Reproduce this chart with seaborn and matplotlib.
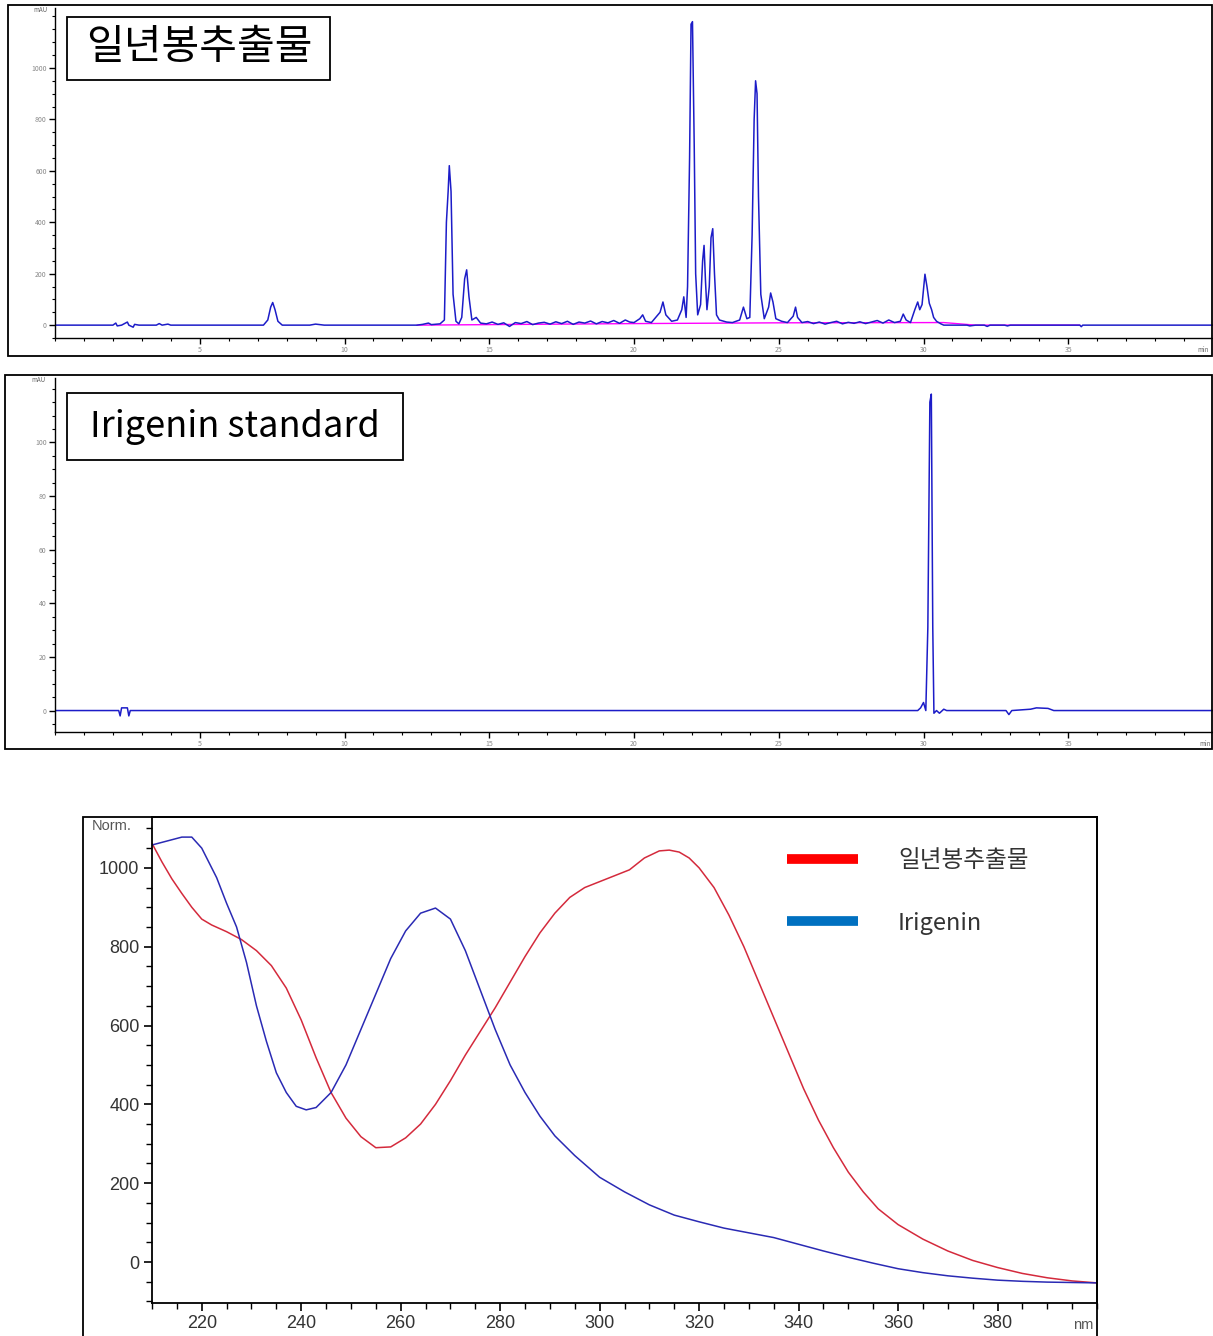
import numpy as np
import pandas as pd
import matplotlib
matplotlib.use("Agg")
import matplotlib.pyplot as plt
import seaborn as sns
from matplotlib.patches import Rectangle
from matplotlib.lines import Line2D
from matplotlib.ticker import MultipleLocator

# ---------------- data ----------------
# Chromatogram of extract (time in min, absorbance in mAU)
sample_time = [0, 2.0, 2.1, 2.15, 2.3, 2.5, 2.55, 2.7, 2.75, 2.9, 3.5, 3.6, 3.7, 3.9, 4.0,
               7.2, 7.35, 7.45, 7.52, 7.6, 7.7, 7.85, 8.8, 9.0, 9.3,
               12.5, 12.7, 12.9, 13.0, 13.3, 13.45, 13.52, 13.58, 13.62, 13.68, 13.75, 13.85, 13.95,
               14.05, 14.15, 14.22, 14.3, 14.4, 14.55, 14.7,
               14.9, 15.1, 15.3, 15.5, 15.7, 15.9, 16.1, 16.3, 16.5, 16.7, 16.9, 17.1, 17.3, 17.5,
               17.7, 17.9, 18.1, 18.3, 18.5, 18.7, 18.9, 19.1, 19.3, 19.5, 19.7, 19.85,
               20.0, 20.2, 20.3, 20.4, 20.6, 20.9, 21.0, 21.1, 21.3, 21.5, 21.65, 21.72, 21.8,
               21.85, 21.92, 21.97, 22.02, 22.08, 22.13, 22.2, 22.3, 22.37, 22.42, 22.47, 22.52,
               22.6, 22.66, 22.72, 22.78, 22.85, 22.95, 23.1, 23.2, 23.4, 23.65, 23.78, 23.9,
               24.0, 24.08, 24.15, 24.2, 24.25, 24.3, 24.38, 24.5, 24.65, 24.72, 24.8, 24.9,
               25.1, 25.3, 25.5, 25.58, 25.65, 25.8,
               26.0, 26.2, 26.4, 26.6, 26.8, 27.0, 27.2, 27.4, 27.6, 27.8, 28.0, 28.2, 28.4,
               28.6, 28.8, 29.0, 29.2, 29.3, 29.4, 29.55, 29.7, 29.8, 29.87, 29.95, 30.05,
               30.12, 30.2, 30.28, 30.35, 30.45, 30.6, 30.7,
               31.5, 31.6, 31.8, 32.1, 32.2, 32.3, 32.8, 32.9, 33.0, 35.4, 35.45, 35.5, 40]
sample_mau = [0, 0, 8, -3, 0, 12, 0, -8, 3, 0, 0, 6, 0, 4, 0,
              0, 20, 70, 88, 60, 15, 0, 0, 4, 0,
              0, 3, 8, 2, 5, 20, 400, 520, 620, 520, 120, 15, 5,
              30, 180, 215, 110, 20, 30, 8,
              5, 12, 3, 9, -5, 10, 6, 14, 2, 8, 11, 4, 13, 6,
              15, 3, 12, 8, 16, 5, 14, 9, 18, 7, 20, 12,
              10, 25, 40, 15, 10, 50, 90, 40, 15, 20, 60, 110, 30,
              150, 650, 1170, 1180, 700, 200, 40, 80, 250, 310, 170, 60,
              150, 340, 375, 200, 40, 20, 15, 12, 10, 20, 70, 25,
              30, 350, 800, 950, 900, 500, 120, 25, 70, 125, 90, 25,
              15, 10, 35, 70, 30, 10,
              14, 6, 12, 4, 10, 15, 5, 11, 7, 13, 6, 12, 18,
              8, 20, 10, 15, 43, 20, 10, 60, 90, 60, 80, 198,
              150, 85, 60, 30, 15, 5, 0,
              0, -3, 0, 0, -5, 0, 0, -3, 0, 0, -6, 0, 0]

# integration baseline (magenta)
base_time = [12.5, 20.0, 25.0, 30.7, 31.8, 35.4]
base_mau = [0, 6, 9, 10, 0, 0]

# Chromatogram of Irigenin standard
std_time = [0, 2.2, 2.25, 2.3, 2.5, 2.55, 2.6, 29.8, 29.9, 30.0, 30.08, 30.15, 30.22, 30.27,
            30.32, 30.36, 30.45, 30.55, 30.7, 30.8, 32.85, 32.95, 33.05, 33.7, 33.9, 34.3, 34.5, 40]
std_mau = [0, 0, -2, 1, 1, -2, 0, 0, 1, 3, 0, 31, 115, 118,
           31, -1, 0, -1, 0.5, 0, 0, -1.5, 0, 0.5, 1, 0.8, 0, 0]

# UV spectra (nm, normalised)
ext_nm = [210, 212, 214, 216, 218, 220, 222, 225, 228, 231, 234, 237, 240, 243, 246, 249, 252,
          255, 258, 261, 264, 267, 270, 273, 276, 279, 282, 285, 288, 291, 294, 297, 300, 303,
          306, 309, 312, 314, 316, 318, 320, 323, 326, 329, 332, 335, 338, 341, 344, 347, 350,
          353, 356, 360, 365, 370, 375, 380, 385, 390, 395, 400]
uv_extract = [1062, 1015, 972, 935, 900, 870, 855, 838, 818, 790, 752, 695, 614, 518, 430, 365,
              318, 290, 292, 315, 350, 400, 460, 525, 585, 645, 710, 775, 835, 885, 925, 950, 965,
              980, 995, 1025, 1043, 1045, 1040, 1025, 1000, 950, 880, 800, 710, 620, 530, 440,
              360, 290, 228, 178, 135, 95, 58, 28, 4, -14, -29, -40, -48, -53]
irig_nm = [210, 213, 216, 218, 220, 223, 225, 227, 229, 231, 233, 235, 237, 239, 241, 243, 246,
           249, 252, 255, 258, 261, 264, 267, 270, 273, 276, 279, 282, 285, 288, 291, 295, 300,
           305, 310, 315, 320, 325, 330, 335, 340, 345, 350, 355, 360, 365, 370, 375, 380, 385,
           390, 395, 400]
uv_irigenin = [1058, 1068, 1078, 1078, 1050, 975, 910, 850, 760, 650, 560, 480, 430, 395, 386,
               392, 430, 500, 590, 680, 770, 840, 885, 898, 870, 790, 690, 590, 500, 430, 370,
               320, 270, 215, 178, 145, 119, 102, 86, 74, 62, 45, 28, 12, -3, -17, -27, -35,
               -41, -46, -49, -51, -52, -53]

label_extract = "일년봉추출물"
label_std = "Irigenin standard"
label_irig = "Irigenin"

# ---------------- figure ----------------
sns.set_theme(style="white")
plt.rcParams["font.family"] = ["Noto Sans CJK KR", "DejaVu Sans"]

W, H = 1213, 1336
fig = plt.figure(figsize=(W / 100, H / 100), dpi=100)
fig.patch.set_facecolor("white")


def ax_px(l, t, r, b):
    return fig.add_axes([l / W, 1 - b / H, (r - l) / W, (b - t) / H])


def rect_px(l, t, r, b, lw=1.3, fc="none", z=1):
    fig.patches.append(Rectangle((l / W, 1 - b / H), (r - l) / W, (b - t) / H,
                                 transform=fig.transFigure, fill=(fc != "none"),
                                 facecolor=fc, edgecolor="black", lw=lw, zorder=z))


# outer frames
rect_px(8, 5, 1212, 356)
rect_px(5, 375, 1212, 749)
rect_px(83, 817, 1097, 1345)

chrom_blue = "#1c1cc8"


def style_chrom(ax, ymin, ymax, ymaj, ymin_step):
    ax.set_xlim(0, 40)
    ax.set_ylim(ymin, ymax)
    ax.set_facecolor("none")
    for s in ["top", "right"]:
        ax.spines[s].set_visible(False)
    for s in ["left", "bottom"]:
        ax.spines[s].set_color("black")
        ax.spines[s].set_linewidth(1.0)
    ax.xaxis.set_major_locator(MultipleLocator(5))
    ax.xaxis.set_minor_locator(MultipleLocator(1))
    ax.yaxis.set_major_locator(MultipleLocator(ymaj))
    ax.yaxis.set_minor_locator(MultipleLocator(ymin_step))
    ax.tick_params(which="both", direction="out", color="black", labelsize=5,
                   labelcolor="#888888", left=True, bottom=True)
    ax.tick_params(which="major", length=4, width=1.0, pad=2)
    ax.tick_params(which="minor", length=2.5, width=0.8)
    ax.set_xticks([5, 10, 15, 20, 25, 30, 35])
    ax.set_xlabel("")
    ax.set_ylabel("")


# top chromatogram
ax1 = ax_px(55, 8, 1213, 338)
sns.lineplot(x=base_time, y=base_mau, sort=False, estimator=None, ax=ax1,
             color="#ff00ff", lw=1.0)
sns.lineplot(x=sample_time, y=sample_mau, sort=False, estimator=None, ax=ax1,
             color=chrom_blue, lw=1.1)
style_chrom(ax1, -50, 1233, 200, 50)
ax1.set_yticks([0, 200, 400, 600, 800, 1000])
fig.text(40 / W, 1 - 10 / H, "mAU", fontsize=4.5, color="#666666", ha="center", va="center")
fig.text(1203 / W, 1 - 350 / H, "min", fontsize=4.5, color="#666666", ha="center", va="center")

rect_px(67, 17, 330, 80, lw=1.3, fc="white", z=3)
fig.text(199 / W, 1 - 47 / H, label_extract, fontsize=29.5, ha="center", va="center",
         color="black", zorder=4)

# middle chromatogram
ax2 = ax_px(55, 378, 1213, 732)
sns.lineplot(x=std_time, y=std_mau, sort=False, estimator=None, ax=ax2,
             color=chrom_blue, lw=1.1)
style_chrom(ax2, -8, 124, 20, 5)
ax2.set_yticks([0, 20, 40, 60, 80, 100])
fig.text(38 / W, 1 - 380 / H, "mAU", fontsize=4.5, color="#666666", ha="center", va="center")
fig.text(1205 / W, 1 - 744 / H, "min", fontsize=4.5, color="#666666", ha="center", va="center")

rect_px(67, 393, 403, 460, lw=1.3, fc="white", z=3)
fig.text(235 / W, 1 - 427 / H, label_std, fontsize=26, ha="center", va="center",
         color="black", zorder=4)

# bottom UV spectra
ax3 = ax_px(152, 817, 1097, 1303)
sns.lineplot(x=ext_nm, y=uv_extract, sort=False, estimator=None, ax=ax3,
             color="#d42a3c", lw=1.1)
sns.lineplot(x=irig_nm, y=uv_irigenin, sort=False, estimator=None, ax=ax3,
             color="#2a2ab4", lw=1.1)
ax3.set_xlim(210, 400)
ax3.set_ylim(-104, 1129)
ax3.set_facecolor("none")
for s in ax3.spines.values():
    s.set_color("black")
    s.set_linewidth(1.3)
ax3.xaxis.set_major_locator(MultipleLocator(20))
ax3.xaxis.set_minor_locator(MultipleLocator(5))
ax3.yaxis.set_major_locator(MultipleLocator(200))
ax3.yaxis.set_minor_locator(MultipleLocator(50))
ax3.set_xticks([220, 240, 260, 280, 300, 320, 340, 360, 380])
ax3.set_yticks([0, 200, 400, 600, 800, 1000])
ax3.tick_params(which="both", direction="out", color="black", left=True, bottom=True)
ax3.tick_params(which="major", length=6, width=1.2, pad=3, labelsize=13, labelcolor="#333333")
ax3.tick_params(which="minor", length=4, width=1.0)
for lab in ax3.get_xticklabels() + ax3.get_yticklabels():
    lab.set_fontfamily(["Liberation Sans", "DejaVu Sans"])
ax3.set_xlabel("")
ax3.set_ylabel("")
fig.text(92 / W, 1 - 826 / H, "Norm.", fontsize=10.5, color="#555555", ha="left", va="center",
         family=["Liberation Sans"])
fig.text(1073 / W, 1 - 1325 / H, "nm", fontsize=10.5, color="#555555", ha="left", va="center",
         family=["Liberation Sans"])

handles = [Line2D([], [], color="#ff0000", lw=7, solid_capstyle="butt"),
           Line2D([], [], color="#0070c0", lw=7, solid_capstyle="butt")]
leg = ax3.legend(handles, [label_extract, label_irig], loc="upper left",
                 bbox_to_anchor=(787 / W, 1 - 849 / H), bbox_transform=fig.transFigure,
                 frameon=False, borderpad=0, borderaxespad=0, fontsize=17,
                 handlelength=3.0, handletextpad=1.7, labelspacing=1.68)
for t in leg.get_texts():
    t.set_color("#333333")

fig.savefig("out.png", dpi=100, facecolor="white")
